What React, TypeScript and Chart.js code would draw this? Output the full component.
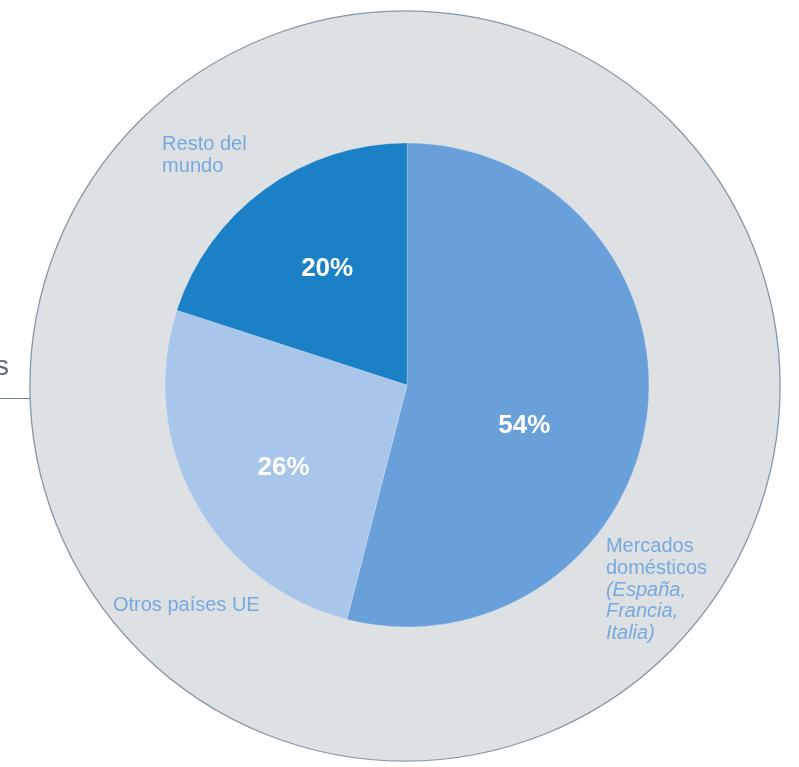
import React, { useEffect, useRef } from "react";
import { Chart, registerables } from "chart.js";

Chart.register(...registerables);

const categories = ["Mercados domésticos", "Otros países UE", "Resto del mundo"];
const values = [54, 26, 20];
const sliceColors = ["#6aa0d9", "#a8c6ea", "#1b80c6"];
const categoryLines = [
  ["Mercados", "domésticos", "(España,", "Francia,", "Italia)"],
  ["Otros países UE"],
  ["Resto del", "mundo"],
];
const italicFrom = [2, 99, 99];

// label placement (angle offset in degrees from slice middle, radial factor)
const pctPlacement = [
  { dAng: 11, r: 0.51 },
  { dAng: -4.5, r: 0.61 },
  { dAng: 2, r: 0.59 },
];
// category label anchors (first baseline) relative to centre, in units of pie radius
const catPlacement = [
  { dx: 0.822, dy: 0.69 },
  { dx: -1.215, dy: 0.935 },
  { dx: -1.012, dy: -0.972 },
];

const FONT = "'Liberation Sans', Arial, sans-serif";

const decorPlugin = {
  id: "decor",
  beforeDatasetsDraw(chart: any) {
    const ctx = chart.ctx;
    const arc = chart.getDatasetMeta(0).data[0];
    if (!arc) return;
    const cx = arc.x, cy = arc.y;
    const R = arc.outerRadius * 1.55;
    ctx.save();
    // left partial text and rule
    ctx.fillStyle = "#5d6d78";
    ctx.font = `28px ${FONT}`;
    ctx.textBaseline = "middle";
    ctx.textAlign = "right";
    ctx.fillText("s", 9, cy - 18);
    ctx.strokeStyle = "#6f7e88";
    ctx.lineWidth = 1.2;
    ctx.beginPath();
    ctx.moveTo(0, cy + 13.5);
    ctx.lineTo(cx - R + 5, cy + 13.5);
    ctx.stroke();
    // big background disc
    ctx.beginPath();
    ctx.arc(cx - 2, cy + 1, R, 0, Math.PI * 2);
    ctx.fillStyle = "#dde1e4";
    ctx.fill();
    ctx.strokeStyle = "#8797a3";
    ctx.lineWidth = 1.3;
    ctx.stroke();
    ctx.restore();
  },
  afterDatasetsDraw(chart: any) {
    const ctx = chart.ctx;
    const meta = chart.getDatasetMeta(0);
    ctx.save();
    meta.data.forEach((arc: any, i: number) => {
      const mid = (arc.startAngle + arc.endAngle) / 2 + (pctPlacement[i].dAng * Math.PI) / 180;
      const rr = arc.outerRadius * pctPlacement[i].r;
      ctx.fillStyle = "#ffffff";
      ctx.font = `bold 26px ${FONT}`;
      ctx.textAlign = "center";
      ctx.textBaseline = "middle";
      ctx.fillText(values[i] + "%", arc.x + Math.cos(mid) * rr, arc.y + Math.sin(mid) * rr + 2);

      const ax = arc.x + catPlacement[i].dx * arc.outerRadius;
      const ay = arc.y + catPlacement[i].dy * arc.outerRadius;
      ctx.fillStyle = "#78a9dd";
      ctx.textAlign = "left";
      ctx.textBaseline = "alphabetic";
      categoryLines[i].forEach((line, j) => {
        ctx.font = (j >= italicFrom[i] ? "italic " : "") + `20px ${FONT}`;
        ctx.fillText(line, ax, ay + j * 21.8);
      });
    });
    ctx.restore();
  },
};

export default function App() {
  const ref = useRef<HTMLCanvasElement>(null);
  useEffect(() => {
    if (!ref.current) return;
    const chart = new Chart(ref.current, {
      type: "pie",
      data: {
        labels: categories,
        datasets: [
          {
            data: values,
            backgroundColor: sliceColors,
            borderColor: "rgba(255,255,255,0.35)",
            borderWidth: 0.6,
          },
        ],
      },
      options: {
        animation: false,
        responsive: false,
        radius: 242,
        layout: { padding: { left: 15, top: 3, right: 0, bottom: 0 } },
        plugins: { legend: { display: false }, tooltip: { enabled: false } },
      } as any,
      plugins: [decorPlugin],
    });
    return () => chart.destroy();
  }, []);
  return (
    <div style={{ position: "absolute", left: 0, top: 0, width: 799, height: 767, background: "#ffffff" }}>
      <canvas ref={ref} width={799} height={767} style={{ width: 799, height: 767, display: "block" }} />
    </div>
  );
}
